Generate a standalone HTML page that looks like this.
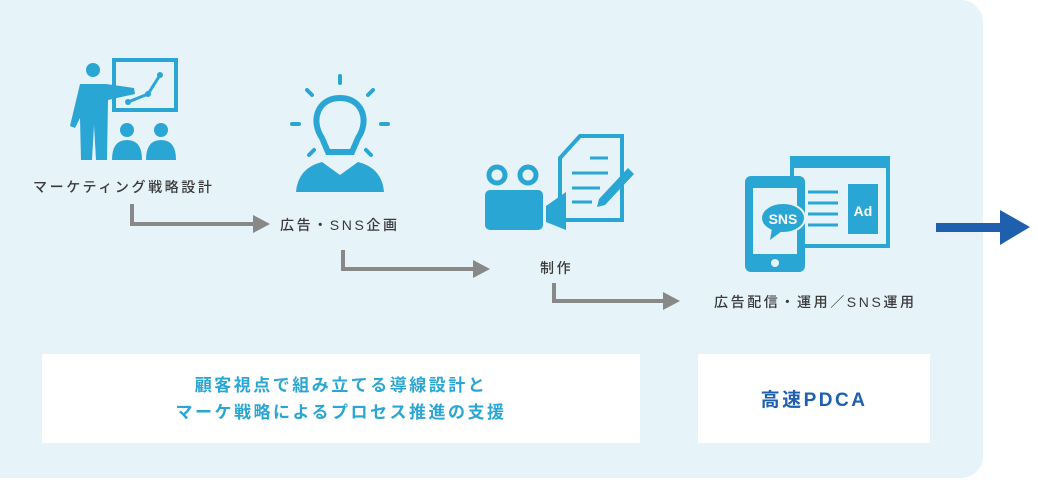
<!DOCTYPE html>
<html><head><meta charset="utf-8"><style>
body{margin:0;width:1038px;height:480px;background:#fff;overflow:hidden;font-family:"Liberation Sans","Noto Sans CJK JP",sans-serif}
.panel{position:absolute;left:0;top:0;width:983px;height:478px;background:#e6f3f8;border-radius:0 22px 22px 0}
.t{position:absolute;font-size:14px;color:#3a3a3a;letter-spacing:2.6px;white-space:nowrap;font-weight:500}
.box{position:absolute;background:#fff;top:354px;height:89px;display:flex;align-items:center;justify-content:center;text-align:center;font-weight:bold;letter-spacing:2.5px}
svg{position:absolute;left:0;top:0}
</style></head><body>
<div class="panel"></div>
<svg width="1038" height="480">
<g fill="#2aa6d4" stroke="none">
<rect x="114" y="60" width="62" height="50" fill="none" stroke="#2aa6d4" stroke-width="4"/>
<polyline points="128,102 148,94 160,75" fill="none" stroke="#2aa6d4" stroke-width="3"/>
<circle cx="128" cy="102" r="3"/><circle cx="148" cy="94" r="3"/><circle cx="160" cy="75" r="3"/>
<circle cx="93" cy="70" r="7"/>
<path d="M80 84 L106 84 L134 88 L135 94 L108 100 L107 160 L96 160 L94 125 L92 160 L81 160 L80 118 L75 128 L70 126 Z"/>
<circle cx="127" cy="130" r="7"/><circle cx="161" cy="130" r="7"/>
<path d="M112 160 Q112 140 127 140 Q142 140 142 160Z"/><path d="M146 160 Q146 140 161 140 Q176 140 176 160Z"/>
<g stroke="#2aa6d4" stroke-width="4" stroke-linecap="round">
<line x1="340" y1="76" x2="340" y2="83"/><line x1="307" y1="90" x2="312" y2="95"/><line x1="373" y1="90" x2="368" y2="95"/>
<line x1="292" y1="124" x2="299" y2="124"/><line x1="381" y1="124" x2="388" y2="124"/>
<line x1="309" y1="155" x2="314" y2="150"/><line x1="371" y1="155" x2="366" y2="150"/></g>
<path d="M340 98 C318 98 310 120 322 138 L328 152 L352 152 L358 138 C370 120 362 98 340 98Z" fill="none" stroke="#2aa6d4" stroke-width="6"/>
<path d="M296 192 Q298 168 322 162 L340 175 L358 162 Q382 168 384 192Z"/>
<circle cx="497" cy="175" r="8" fill="none" stroke="#2aa6d4" stroke-width="5"/><circle cx="528" cy="175" r="8" fill="none" stroke="#2aa6d4" stroke-width="5"/>
<rect x="485" y="190" width="58" height="40" rx="5"/><path d="M546 206 L566 192 L566 230 L546 222Z"/>
<path d="M580 136 L622 136 L622 220 L560 220 L560 158Z" fill="none" stroke="#2aa6d4" stroke-width="4"/>
<g stroke="#2aa6d4" stroke-width="3"><line x1="590" y1="158" x2="608" y2="158"/><line x1="572" y1="173" x2="608" y2="173"/><line x1="572" y1="188" x2="600" y2="188"/><line x1="572" y1="202" x2="592" y2="202"/></g>
<path d="M628 168 L634 174 L605 205 L597 207 L599 199Z"/>
<rect x="792" y="158" width="96" height="88" fill="#e6f3f8" stroke="#2aa6d4" stroke-width="4"/>
<rect x="792" y="158" width="96" height="10"/>
<rect x="848" y="184" width="30" height="50"/>
<g stroke="#2aa6d4" stroke-width="3"><line x1="808" y1="192" x2="838" y2="192"/><line x1="808" y1="203" x2="838" y2="203"/><line x1="808" y1="214" x2="838" y2="214"/><line x1="808" y1="225" x2="838" y2="225"/></g>
<rect x="745" y="176" width="60" height="96" rx="6"/><rect x="753" y="188" width="44" height="66" fill="#e6f3f8"/>
<circle cx="775" cy="263" r="4" fill="#e6f3f8"/>
<ellipse cx="783" cy="218" rx="22" ry="15" stroke="#e6f3f8" stroke-width="2"/><path d="M772 228 L770 240 L782 231Z"/>
</g>
<text x="783" y="224" font-size="14" font-weight="bold" fill="#fff" text-anchor="middle" font-family="Liberation Sans">SNS</text>
<text x="863" y="216" font-size="14" font-weight="bold" fill="#fff" text-anchor="middle" font-family="Liberation Sans">Ad</text>
<g fill="none" stroke="#888" stroke-width="4">
<polyline points="132,204 132,224 255,224"/>
<polyline points="343,250 343,269 475,269"/>
<polyline points="554,283 554,301 665,301"/>
</g>
<g fill="#888"><path d="M253 215 L270 224 L253 233Z"/><path d="M473 260 L490 269 L473 278Z"/><path d="M663 292 L680 301 L663 310Z"/></g>
<rect x="936" y="223" width="70" height="9" fill="#1e5fae"/><path d="M1000 210 L1030 227 L1000 245Z" fill="#1e5fae"/>
</svg>
<div class="t" style="left:33px;top:177px">マーケティング戦略設計</div>
<div class="t" style="left:280px;top:215px">広告・SNS企画</div>
<div class="t" style="left:540px;top:258px">制作</div>
<div class="t" style="left:714px;top:292px">広告配信・運用／SNS運用</div>
<div class="box" style="left:42px;width:598px;color:#2aa6d4;font-size:17px;line-height:27px">顧客視点で組み立てる導線設計と<br>マーケ戦略によるプロセス推進の支援</div>
<div class="box" style="left:698px;width:232px;color:#1e5fae;font-size:19px">高速PDCA</div>
</body></html>
